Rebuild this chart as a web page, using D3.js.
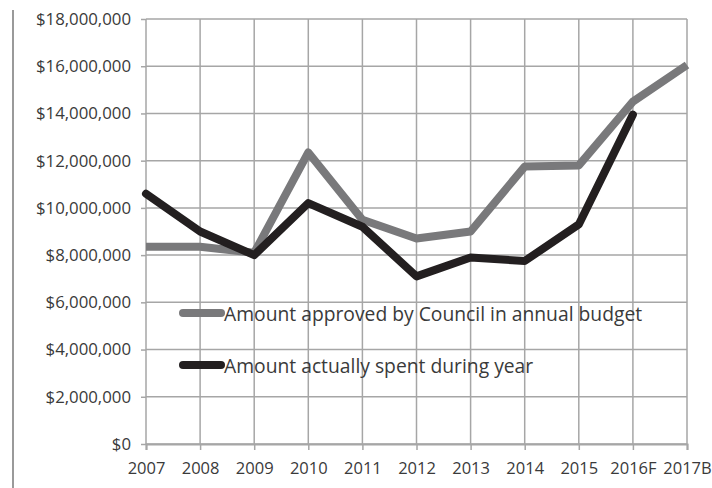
<!DOCTYPE html>
<meta charset="utf-8">
<script src="https://d3js.org/d3.v7.min.js"></script>
<style>
  body { margin: 0; background: #fff; }
  text { font-family: "Open Sans", sans-serif; fill: #3a3a3a; }
</style>
<div id="chart"></div>
<script>
// chart data
var years = ["2007", "2008", "2009", "2010", "2011", "2012", "2013", "2014", "2015", "2016F", "2017B"];
var approved = [8350000, 8350000, 8100000, 12350000, 9500000, 8700000, 9000000, 11750000, 11800000, 14500000, 16050000];
var spent = [10600000, 9000000, 8000000, 10200000, 9200000, 7100000, 7900000, 7750000, 9300000, 13950000, null];
var seriesNames = ["Amount approved by Council in annual budget", "Amount actually spent during year"];
var yTicks = [0, 2000000, 4000000, 6000000, 8000000, 10000000, 12000000, 14000000, 16000000, 18000000];

var width = 712, height = 488;
var margin = {top: 19, right: 25, bottom: 44, left: 146};

var svg = d3.select("#chart").append("svg")
    .attr("width", width)
    .attr("height", height);

// left border line
svg.append("line")
    .attr("x1", 13).attr("x2", 13)
    .attr("y1", 10).attr("y2", height)
    .attr("stroke", "#9a9a9a").attr("stroke-width", 2);

var x = d3.scalePoint()
    .domain(years)
    .range([margin.left, width - margin.right]);

var y = d3.scaleLinear()
    .domain([0, 18000000])
    .range([height - margin.bottom, margin.top]);

var fmt = function(d) { return "$" + d3.format(",")(d); };

// horizontal grid
svg.append("g")
    .selectAll("line")
    .data(yTicks)
    .enter().append("line")
    .attr("x1", margin.left).attr("x2", width - margin.right)
    .attr("y1", function(d) { return y(d); })
    .attr("y2", function(d) { return y(d); })
    .attr("stroke", "#a6a6a6").attr("stroke-width", 1.5);

// vertical grid
svg.append("g")
    .selectAll("line")
    .data(years)
    .enter().append("line")
    .attr("x1", function(d) { return x(d); })
    .attr("x2", function(d) { return x(d); })
    .attr("y1", margin.top).attr("y2", height - margin.bottom)
    .attr("stroke", "#a6a6a6").attr("stroke-width", 1.5);

// y axis
var yAxis = svg.append("g")
    .attr("transform", "translate(" + margin.left + ",0)")
    .call(d3.axisLeft(y).tickValues(yTicks).tickFormat(fmt).tickSize(5).tickPadding(10));
yAxis.select(".domain").remove();
yAxis.selectAll(".tick line").attr("stroke", "#a6a6a6").attr("stroke-width", 1.5);
yAxis.selectAll("text").style("font-size", "16.8px");

// x axis
var xAxis = svg.append("g")
    .attr("transform", "translate(0," + (height - margin.bottom) + ")")
    .call(d3.axisBottom(x).tickSize(6).tickPadding(12));
xAxis.select(".domain").attr("stroke", "#a6a6a6").attr("stroke-width", 2);
xAxis.selectAll(".tick line").attr("stroke", "#a6a6a6").attr("stroke-width", 1.5);
xAxis.selectAll("text").style("font-size", "16.5px");

var line = d3.line()
    .defined(function(d) { return d != null; })
    .x(function(d, i) { return x(years[i]); })
    .y(function(d) { return y(d); });

var colors = ["#79797b", "#231f20"];

svg.append("path")
    .datum(approved)
    .attr("d", line)
    .attr("fill", "none")
    .attr("stroke", colors[0])
    .attr("stroke-width", 8)
    .attr("stroke-linejoin", "round");

svg.append("path")
    .datum(spent)
    .attr("d", line)
    .attr("fill", "none")
    .attr("stroke", colors[1])
    .attr("stroke-width", 8)
    .attr("stroke-linejoin", "round")
    .attr("stroke-linecap", "round");

// legend
var legend = svg.append("g")
    .selectAll("g")
    .data(seriesNames)
    .enter().append("g")
    .attr("transform", function(d, i) { return "translate(183," + (313 + i * 52) + ")"; });

legend.append("line")
    .attr("x1", 0).attr("x2", 38)
    .attr("stroke", function(d, i) { return colors[i]; })
    .attr("stroke-width", 8)
    .attr("stroke-linecap", "round");

legend.append("text")
    .attr("x", 41)
    .attr("y", 8)
    .style("font-size", "19.3px")
    .text(function(d) { return d; });
</script>
